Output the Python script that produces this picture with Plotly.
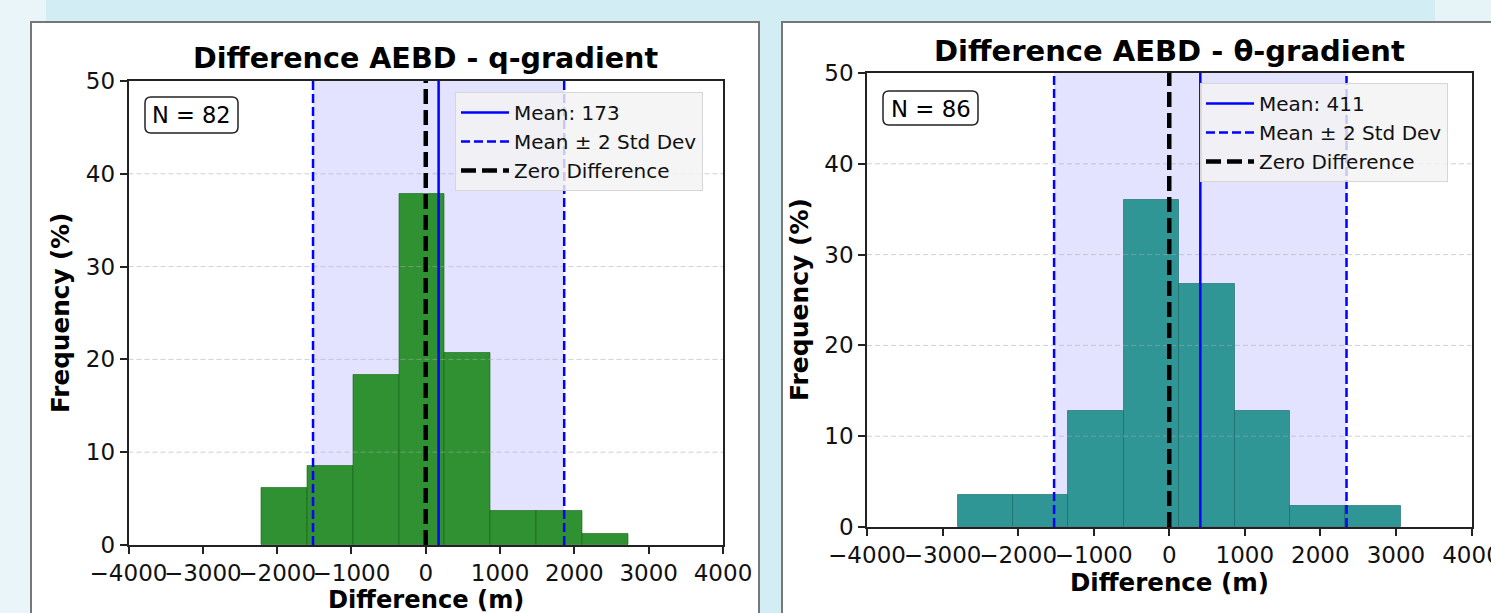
import plotly.graph_objects as go

# ---------------- data ----------------
left_edges = [-2210, -1593, -977, -360, 257, 874, 1490, 2107, 2724]
left_counts = [5, 7, 15, 31, 17, 3, 3, 1]
left_n = 82
left_mean = 173
left_std = 845

right_edges = [-2801, -2068, -1334, -601, 132, 865, 1598, 2332, 3065]
right_counts = [3, 3, 11, 31, 23, 11, 2, 2]
right_n = 86
right_mean = 411
right_std = 967.5

x_ticks = [-4000, -3000, -2000, -1000, 0, 1000, 2000, 3000, 4000]
x_tick_text = ["−4000", "−3000", "−2000", "−1000", "0", "1000", "2000", "3000", "4000"]
y_ticks = [0, 10, 20, 30, 40, 50]
x_range = [-4000, 4000]
y_range = [0, 50]

titles = ["Difference AEBD - q-gradient", "Difference AEBD - θ-gradient"]

# ---------------- geometry helpers ----------------
W, H = 1491, 613
FONT = "DejaVu Sans"


def px(x):
    return x / W


def py(y):
    return 1 - y / H


fig = go.Figure()

# ---------------- background panels (first, so everything else sits on top) ----------------
shapes_bg = [
    dict(type="rect", xref="paper", yref="paper", x0=0, x1=px(46), y0=0, y1=1,
         fillcolor="#eaf5f9", line=dict(width=0), layer="below"),
    dict(type="rect", xref="paper", yref="paper", x0=px(1435), x1=1, y0=py(21), y1=1,
         fillcolor="#e6f4f8", line=dict(width=0), layer="below"),
    dict(type="rect", xref="paper", yref="paper", x0=px(31), x1=px(759), y0=py(620), y1=py(22),
         fillcolor="white", line=dict(color="#777777", width=2), layer="below"),
    dict(type="rect", xref="paper", yref="paper", x0=px(782), x1=px(1500), y0=py(620), y1=py(22),
         fillcolor="white", line=dict(color="#777777", width=2), layer="below"),
]
for s in shapes_bg:
    fig.add_shape(**s)

panels = [
    dict(edges=left_edges, counts=left_counts, n=left_n, mean=left_mean, std=left_std,
         color="rgb(47,145,50)", edge="rgba(20,100,20,0.6)", xa="x", ya="y", legend="legend"),
    dict(edges=right_edges, counts=right_counts, n=right_n, mean=right_mean, std=right_std,
         color="rgb(47,149,149)", edge="rgba(20,100,100,0.6)", xa="x2", ya="y2", legend="legend2"),
]

for p in panels:
    e = p["edges"]
    centers = [(e[i] + e[i + 1]) / 2 for i in range(len(e) - 1)]
    widths = [e[i + 1] - e[i] for i in range(len(e) - 1)]
    pct = [c / p["n"] * 100 for c in p["counts"]]
    fig.add_trace(go.Bar(x=centers, y=pct, width=widths,
                         marker=dict(color=p["color"], line=dict(color=p["edge"], width=1)),
                         xaxis=p["xa"], yaxis=p["ya"], showlegend=False, hoverinfo="x+y"))
    # dashed grid lines (drawn over bars, as in the reference)
    for gv in y_ticks[1:-1]:
        fig.add_trace(go.Scatter(x=x_range, y=[gv, gv], mode="lines",
                                 line=dict(color="rgba(170,170,170,0.55)", width=1, dash="5px,3px"),
                                 xaxis=p["xa"], yaxis=p["ya"], showlegend=False, hoverinfo="skip"))
    lo = p["mean"] - 2 * p["std"]
    hi = p["mean"] + 2 * p["std"]
    fig.add_trace(go.Scatter(x=[p["mean"], p["mean"]], y=y_range, mode="lines",
                             line=dict(color="#0000ff", width=2.5),
                             name=f"Mean: {p['mean']}", xaxis=p["xa"], yaxis=p["ya"],
                             legend=p["legend"]))
    fig.add_trace(go.Scatter(x=[lo, lo, None, hi, hi], y=[y_range[0], y_range[1], None, y_range[0], y_range[1]],
                             mode="lines", line=dict(color="#0000ff", width=2.5, dash="9px,4px"),
                             name="Mean ± 2 Std Dev", xaxis=p["xa"], yaxis=p["ya"],
                             legend=p["legend"]))
    fig.add_trace(go.Scatter(x=[0, 0], y=y_range, mode="lines",
                             line=dict(color="#000000", width=4.5, dash="15px,6px"),
                             name="Zero Difference", xaxis=p["xa"], yaxis=p["ya"],
                             legend=p["legend"]))
    fig.add_shape(type="rect", xref=p["xa"], yref=p["ya"] + " domain", x0=lo, x1=hi, y0=0, y1=1,
                  fillcolor="rgba(0,0,255,0.11)", line=dict(width=0), layer="below")


def rounded_box(x0, y0, x1, y1, r=6):
    X0, X1 = px(x0), px(x1)
    Y0, Y1 = py(y0), py(y1)
    rx, ry = r / W, r / H
    path = (f"M{X0 + rx},{Y0} L{X1 - rx},{Y0} Q{X1},{Y0} {X1},{Y0 - ry} "
            f"L{X1},{Y1 + ry} Q{X1},{Y1} {X1 - rx},{Y1} L{X0 + rx},{Y1} "
            f"Q{X0},{Y1} {X0},{Y1 + ry} L{X0},{Y0 - ry} Q{X0},{Y0} {X0 + rx},{Y0} Z")
    return dict(type="path", xref="paper", yref="paper", path=path,
                fillcolor="white", line=dict(color="#222222", width=1.5), layer="above")


fig.add_shape(**rounded_box(145, 97, 238, 133))
fig.add_shape(**rounded_box(883, 91, 978, 125))

# ---------------- annotations ----------------
ann = []


def add_text(text, x, y, size, angle=0, bold=False):
    ann.append(dict(text=f"<b>{text}</b>" if bold else text, x=px(x), y=py(y), xref="paper", yref="paper",
                    showarrow=False, xanchor="center", yanchor="middle", textangle=angle,
                    font=dict(family=FONT, size=size, color="#000000")))


add_text(titles[0], 425.7, 58, 28.6, bold=True)
add_text(titles[1], 1169.5, 51, 29, bold=True)
add_text("Frequency (%)", 61, 313, 24.7, angle=-90, bold=True)
add_text("Frequency (%)", 799, 300, 25, angle=-90, bold=True)
add_text("Difference (m)", 425.7, 600, 24.2, bold=True)
add_text("Difference (m)", 1169.2, 582.5, 24.5, bold=True)
add_text(f"N = {left_n}", 191.5, 115.5, 22.5)
add_text(f"N = {right_n}", 930.5, 108.5, 22.8)

axis_common = dict(range=x_range, tickmode="array", tickvals=x_ticks, ticktext=x_tick_text,
                   showgrid=False, zeroline=False, showline=True, mirror=True, linecolor="#222222",
                   linewidth=1.6, ticks="outside", ticklen=7, tickwidth=1.5, tickcolor="#222222",
                   tickangle=0, automargin=False, ticklabeloverflow="allow",
                   tickfont=dict(family=FONT, size=23, color="#111111"), fixedrange=True)
yaxis_common = dict(range=y_range, tickmode="array", tickvals=y_ticks,
                    showgrid=False, zeroline=False, showline=True, mirror=True, linecolor="#222222",
                    linewidth=1.6, ticks="outside", ticklen=7, tickwidth=1.5, tickcolor="#222222",
                    automargin=False,
                    tickfont=dict(family=FONT, size=23, color="#111111"), fixedrange=True)

legend_common = dict(xanchor="left", yanchor="top", bgcolor="rgba(243,243,243,0.82)",
                     bordercolor="#d6d6d6", borderwidth=1,
                     font=dict(family=FONT, size=20, color="#111111"), itemwidth=48,
                     traceorder="normal", tracegroupgap=0)

fig.update_layout(
    template="none",
    width=W, height=H,
    margin=dict(l=0, r=0, t=0, b=0, pad=0, autoexpand=False),
    paper_bgcolor="#d3edf5",
    plot_bgcolor="rgba(0,0,0,0)",
    bargap=0,
    barmode="overlay",
    showlegend=True,
    xaxis=dict(domain=[px(128.5), px(723)], anchor="y", **axis_common),
    yaxis=dict(domain=[py(545), py(81)], anchor="x", **yaxis_common),
    xaxis2=dict(domain=[px(867), px(1471.5)], anchor="y2", **axis_common),
    yaxis2=dict(domain=[py(527), py(73)], anchor="x2", **yaxis_common),
    legend=dict(x=px(455), y=py(92), **legend_common),
    legend2=dict(x=px(1200), y=py(83), **legend_common),
    annotations=ann,
)

fig.write_html("out.html", config={"displayModeBar": False},
               post_script="document.body.style.margin='0';document.body.style.overflow='hidden';")
